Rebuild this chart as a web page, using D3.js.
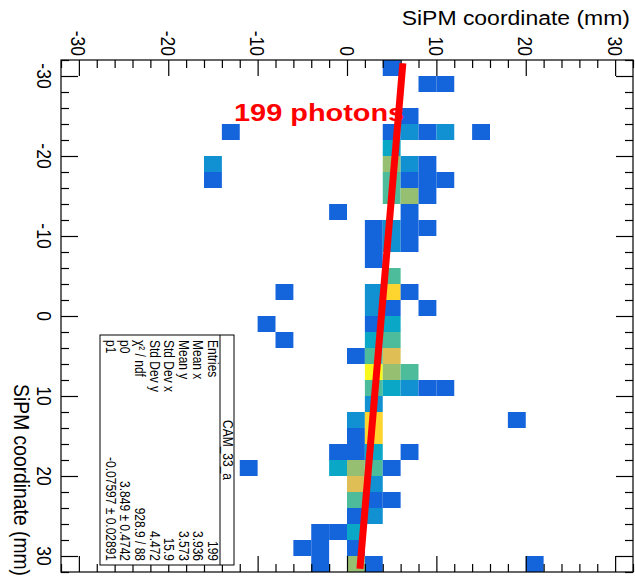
<!DOCTYPE html>
<html>
<head>
<meta charset="utf-8">
<script src="https://cdn.jsdelivr.net/npm/d3@7"></script>
<style>
  html, body { margin: 0; padding: 0; background: #fff; }
  svg { display: block; font-family: "Liberation Sans", Arial, sans-serif; }
</style>
</head>
<body>
<svg id="chart" width="635" height="577"></svg>
<script>
// histogram cells: [x centre (mm, vertical), y centre (mm, horizontal), entries]
const cells = [
  [-31, 5, 1],
  [-29, 9, 1], [-29, 11, 1],
  [-25, 7, 1],
  [-23, -13, 1], [-23, 5, 1], [-23, 7, 2], [-23, 9, 1], [-23, 11, 2], [-23, 15, 1],
  [-21, 5, 3],
  [-19, -15, 2], [-19, 5, 5], [-19, 7, 2], [-19, 9, 1],
  [-17, -15, 1], [-17, 5, 4], [-17, 7, 1], [-17, 9, 1], [-17, 11, 1],
  [-15, 5, 4], [-15, 7, 5], [-15, 9, 1],
  [-13, -1, 1], [-13, 7, 1],
  [-11, 3, 1], [-11, 5, 2], [-11, 7, 1], [-11, 9, 1],
  [-9, 3, 1], [-9, 5, 2], [-9, 7, 1],
  [-7, 3, 1],
  [-5, 5, 4],
  [-3, -7, 1], [-3, 3, 2], [-3, 5, 7], [-3, 7, 1],
  [-1, 3, 2], [-1, 5, 1], [-1, 9, 1],
  [1, -9, 1], [1, 3, 1], [1, 5, 3],
  [3, -7, 1], [3, 3, 3], [3, 5, 4],
  [5, 1, 1], [5, 3, 4], [5, 5, 6],
  [7, 3, 8], [7, 5, 5], [7, 7, 4],
  [9, 3, 4], [9, 5, 3], [9, 7, 2], [9, 9, 1], [9, 11, 1],
  [11, 3, 2],
  [13, 1, 2], [13, 3, 7], [13, 19, 1],
  [15, 1, 1], [15, 3, 7],
  [17, -1, 1], [17, 1, 1], [17, 3, 3], [17, 7, 1],
  [19, -11, 1], [19, -1, 3], [19, 1, 5], [19, 3, 4], [19, 5, 1],
  [21, 1, 6], [21, 3, 2],
  [23, 1, 4], [23, 3, 1], [23, 5, 1],
  [25, 1, 1], [25, 3, 2],
  [27, -3, 1], [27, -1, 1], [27, 1, 3],
  [29, -5, 1], [29, -3, 1], [29, 1, 1],
  [31, -3, 1], [31, 1, 5], [31, 3, 1], [31, 21, 1],
];
const binWidth = 2;
const axisRange = [-32, 32];
const majorTicks = [-30, -20, -10, 0, 10, 20, 30];
const minorTicks = d3.range(-32, 33, 2);
const axisTitle = 'SiPM coordinate (mm)';

// linear fit y = p0 + p1 * x
const p0 = 3.849;
const p1 = -0.07597;
const fitRange = [-31.6, 31.6];

const statsTitle = 'CAM_33_a';
const statsLabels = ['Entries', 'Mean x', 'Mean y', 'Std Dev x', 'Std Dev y', 'χ² / ndf', 'p0', 'p1'];
const statsValues = ['199', '3.936', '3.573', '15.9', '4.472', '928.9 / 88', '3.849 ± 0.4742', '-0.07597 ± 0.02891'];
const annotation = '199 photons';

// bird-like palette, one colour per entry count
const palette = ['#1464dc', '#1190d2', '#0aa8c6', '#4dbc9a', '#97bf72', '#dfbf55', '#fed52f', '#f8f81c'];

const stretch = 1.19; // picture is wider than tall, text glyphs follow it
const svg = d3.select('#chart');

const hScale = d3.scaleLinear().domain(axisRange).range([61, 633]);
const vScale = d3.scaleLinear().domain(axisRange).range([60, 572]);

// cells
svg.append('g')
  .selectAll('rect')
  .data(cells)
  .join('rect')
  .attr('x', d => hScale(d[1] - binWidth / 2))
  .attr('y', d => vScale(d[0] - binWidth / 2))
  .attr('width', d => hScale(d[1] + binWidth / 2) - hScale(d[1] - binWidth / 2))
  .attr('height', d => vScale(d[0] + binWidth / 2) - vScale(d[0] - binWidth / 2))
  .attr('fill', d => palette[Math.min(d[2], palette.length) - 1]);

// ticks on all four sides, pointing inwards
const tickAxis = function (axis, size, values, transform) {
  svg.append('g')
    .attr('transform', transform)
    .call(axis.tickValues(values).tickSize(size).tickSizeOuter(0).tickFormat(''))
    .call(g => g.select('.domain').remove())
    .call(g => g.selectAll('line').attr('stroke', '#000').attr('stroke-width', 1.2));
};
const minorOnly = minorTicks.filter(t => majorTicks.indexOf(t) == -1);
tickAxis(d3.axisTop(hScale), -16, majorTicks, `translate(0,${vScale(-32)})`);
tickAxis(d3.axisTop(hScale), -8, minorOnly, `translate(0,${vScale(-32)})`);
tickAxis(d3.axisBottom(hScale), -16, majorTicks, `translate(0,${vScale(32)})`);
tickAxis(d3.axisBottom(hScale), -8, minorOnly, `translate(0,${vScale(32)})`);
tickAxis(d3.axisLeft(vScale), -17, majorTicks, `translate(${hScale(-32)},0)`);
tickAxis(d3.axisLeft(vScale), -8, minorOnly, `translate(${hScale(-32)},0)`);
tickAxis(d3.axisRight(vScale), -17, majorTicks, `translate(${hScale(32)},0)`);
tickAxis(d3.axisRight(vScale), -8, minorOnly, `translate(${hScale(32)},0)`);

// frame
svg.append('rect')
  .attr('x', hScale(-32))
  .attr('y', vScale(-32))
  .attr('width', hScale(32) - hScale(-32))
  .attr('height', vScale(32) - vScale(-32))
  .attr('fill', 'none')
  .attr('stroke', '#000')
  .attr('stroke-width', 1.2);

const rotText = function (x, y, text, size, anchor) {
  return svg.append('text')
    .attr('transform', `translate(${x},${y}) scale(${stretch},1) rotate(90)`)
    .attr('text-anchor', anchor)
    .style('font-size', size + 'px')
    .text(text);
};

// tick labels
majorTicks.forEach(t => {
  rotText(hScale(t) - 7.5, 56, t, 17.5, 'end');
  rotText(37, vScale(t), t, 17.5, 'middle');
});

// axis titles
svg.append('text')
  .attr('transform', `translate(630,25) scale(${stretch},1)`)
  .attr('text-anchor', 'end')
  .style('font-size', '19.3px')
  .text(axisTitle);
rotText(14, 576, axisTitle, 19.3, 'end');

// stats box
const box = { x0: 100, x1: 234, y0: 335, y1: 565 };
svg.append('rect')
  .attr('x', box.x0).attr('y', box.y0)
  .attr('width', box.x1 - box.x0).attr('height', box.y1 - box.y0)
  .attr('fill', '#fff').attr('stroke', '#000').attr('stroke-width', 1);
svg.append('line')
  .attr('x1', 220).attr('x2', 220).attr('y1', box.y0).attr('y2', box.y1)
  .attr('stroke', '#000').attr('stroke-width', 1);
rotText(222.5, (box.y0 + box.y1) / 2, statsTitle, 12, 'middle');
statsLabels.forEach((label, i) => {
  const x = 208 - i * 14.6;
  rotText(x, box.y0 + 5, label, 12, 'start');
  rotText(x, box.y1 - 4, statsValues[i], 12, 'end');
});

// fit line
svg.append('line')
  .attr('x1', hScale(p0 + p1 * fitRange[0]))
  .attr('y1', vScale(fitRange[0]))
  .attr('x2', hScale(p0 + p1 * fitRange[1]))
  .attr('y2', vScale(fitRange[1]))
  .attr('stroke', '#ff0000')
  .attr('stroke-width', 7);

// annotation
svg.append('text')
  .attr('transform', `translate(234,121) scale(${stretch},1)`)
  .attr('fill', '#ff0000')
  .style('font-size', '24.3px')
  .style('font-weight', 'bold')
  .text(annotation);
</script>
</body>
</html>
